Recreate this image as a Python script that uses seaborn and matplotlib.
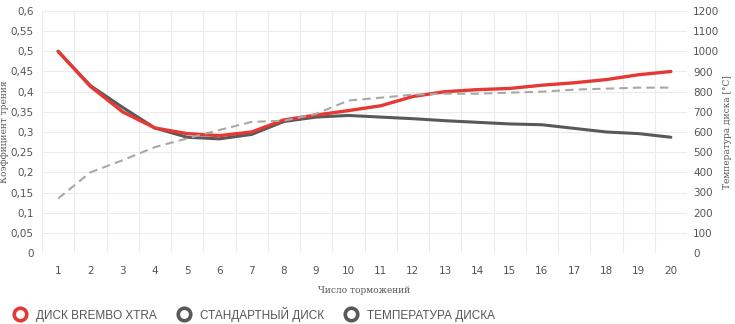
import matplotlib
matplotlib.use("Agg")
import matplotlib.pyplot as plt
from matplotlib.lines import Line2D
import seaborn as sns
import pandas as pd
import numpy as np

brakes = list(range(1, 21))
brembo = [0.50, 0.413, 0.350, 0.310, 0.296, 0.291, 0.300, 0.330, 0.342, 0.353,
          0.365, 0.388, 0.400, 0.405, 0.408, 0.416, 0.422, 0.430, 0.442, 0.450]
standard = [0.50, 0.415, 0.361, 0.310, 0.287, 0.283, 0.294, 0.326, 0.337, 0.341,
            0.337, 0.333, 0.328, 0.324, 0.320, 0.318, 0.309, 0.300, 0.296, 0.287]
temperature = [270, 400, 460, 525, 568, 610, 650, 656, 690, 756,
               770, 785, 790, 790, 795, 800, 810, 815, 820, 820]

labels = ["ДИСК BREMBO XTRA", "СТАНДАРТНЫЙ ДИСК", "ТЕМПЕРАТУРА ДИСКА"]
red = "#e53935"
dark = "#595959"
dash_c = "#a8a8a8"
tick_c = "#555555"

sns.set_theme(style="white")
plt.rcParams['font.family'] = ['DejaVu Sans']

df = pd.DataFrame({"n": brakes, "brembo": brembo, "standard": standard, "temp": temperature})

fig = plt.figure(figsize=(7.35, 3.24), dpi=100)
ax = fig.add_axes([42/735, 1-253/324, (687-42)/735, (253-11)/324])
ax2 = ax.twinx()

sns.lineplot(data=df, x="n", y="standard", ax=ax, color=dark, lw=2.2, zorder=3)
sns.lineplot(data=df, x="n", y="brembo", ax=ax, color=red, lw=2.4, zorder=4)
sns.lineplot(data=df, x="n", y="temp", ax=ax2, color=dash_c, lw=1.5, linestyle=(0, (4, 2.5)), zorder=2)

ax.set_xlim(0.5, 20.5)
ax.set_ylim(0, 0.6)
ax2.set_ylim(0, 1200)
yt = np.round(np.arange(0, 0.601, 0.05), 2)
ax.set_yticks(yt)
ax.set_yticklabels([("%g" % v).replace(".", ",") for v in yt])
ax2.set_yticks(np.arange(0, 1201, 100))
ax.set_xticks(brakes)
ax.set_xticks(np.arange(0.5, 20.6, 1), minor=True)

ax.grid(False)
ax2.grid(False)
for v in yt:
    ax.axhline(v, color="#ececec", lw=0.8, zorder=0)
ax.grid(True, which="minor", axis="x", color="#ececec", lw=0.8)
ax.set_axisbelow(True)

for a in (ax, ax2):
    for s in a.spines.values():
        s.set_visible(False)
    a.tick_params(axis="both", which="both", length=0, colors=tick_c, labelsize=7.5)
ax.tick_params(axis="y", pad=6)
ax2.tick_params(axis="y", pad=4.5)
ax.tick_params(axis="x", pad=9)

ax.set_xlabel("Число торможений", family="DejaVu Serif", fontsize=6.5, color=tick_c)
ax.xaxis.set_label_coords(0.5, -0.135)
ax.set_ylabel("Коэффициент трения", family="DejaVu Serif", fontsize=6.5, color=tick_c)
ax.yaxis.set_label_coords(-33/645, 0.5)
ax2.set_ylabel("Температура диска [°C]", family="DejaVu Serif", fontsize=6.5, color=tick_c,
               rotation=90)
ax2.yaxis.set_label_coords(1 + 36/645, 0.5)

handles = [Line2D([], [], marker="o", linestyle="", markerfacecolor="none",
                  markeredgecolor=c, markersize=9, markeredgewidth=2.6)
           for c in (red, dark, dark)]
leg = fig.legend(handles, labels, loc="center left", bbox_to_anchor=(3.5/735, 10/324),
                 ncol=3, frameon=False, handlelength=1.0, handletextpad=0.85,
                 columnspacing=1.8,
                 prop={"family": ["Liberation Sans", "DejaVu Sans"], "size": 8.5})
for t in leg.get_texts():
    t.set_color(tick_c)

fig.savefig("out.png", dpi=100)
